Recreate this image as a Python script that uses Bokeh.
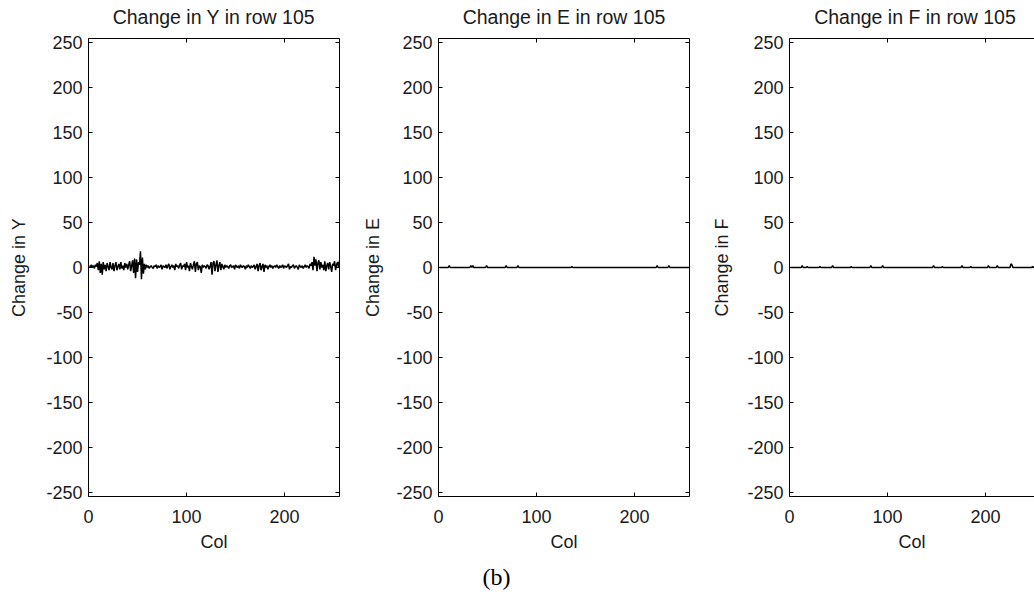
from bokeh.plotting import figure
from bokeh.models import LinearAxis, FixedTicker, Range1d, Label, PrintfTickFormatter
from bokeh.layouts import row, column
from bokeh.embed import file_html
from bokeh.resources import INLINE

cols = list(range(1, 257))

change_y = [
    2, 1, 3, 0, 2, -1, 3, 1, 5, -3, 7, -6, 4, -8, 6, -2,
    3, -4, 5, 1, -3, 6, 0, -2, 5, -4, 2, 6, -3, 1, 4, -2,
    6, -1, 2, -3, 5, 0, 4, -2, 3, 7, -4, 2, 8, -6, 10, -12,
    9, -5, 6, 3, 18, -13, 11, -7, 4, -2, 3, 0, 2, -1, 1, 2,
    0, -1, 2, 1, 3, -1, 2, 0, 1, 3, -2, 2, 1, 0, 3, -1,
    2, 4, -2, 1, 3, 0, 2, -3, 4, 1, 2, -1, 3, 5, -2, 2,
    1, 4, -3, 6, 0, 2, -4, 5, 1, -2, 3, 7, -5, 4, 6, -3,
    2, 1, -6, 3, 0, 2, 1, -1, 3, 2, -2, 1, 6, -8, 5, 7,
    -4, 3, 8, -5, 2, 6, -3, 4, 1, -2, 3, 0, 2, 1, -1, 2,
    3, 0, 1, 2, -2, 3, 1, 0, 2, -1, 3, 1, 0, 2, 1, -2,
    2, 0, 3, 1, -1, 2, 0, 1, 3, -2, 1, 4, -4, 2, 5, -3,
    1, 4, -5, 3, 0, 2, -2, 1, 3, 0, 2, -1, 1, 2, 0, 3,
    1, -1, 2, 0, 1, 3, -1, 2, 1, 0, 2, 4, -2, 1, 0, 2,
    3, -1, 1, 2, 0, -2, 3, 1, 0, 2, -1, 1, 3, 0, 2, 1,
    -1, 4, 2, 6, -3, 12, 2, 9, -4, 5, 8, -2, 6, 0, 3, -3,
    7, -4, 2, 5, -2, 6, 1, -5, 4, 2, 7, -3, 3, 6, 0, 8,
]

# E and F are zero except at a few columns
e_cols = [11, 33, 35, 49, 69, 81, 136, 223, 235]
e_vals = [2, 2, 2, 2, 2, 2, 1, 2, 2]
f_cols = [13, 18, 31, 44, 63, 83, 95, 147, 156, 176, 185, 203, 212, 226, 227, 248]
f_vals = [2, 1, 1, 2, 1, 2, 2, 2, 1, 2, 1, 2, 2, 4, 3, 1]


def sparse_series(nz_cols, nz_vals):
    d = dict(zip(nz_cols, nz_vals))
    return [d.get(c, 0) for c in cols]


change_e = sparse_series(e_cols, e_vals)
change_f = sparse_series(f_cols, f_vals)

titles = ["Change in Y in row 105", "Change in E in row 105", "Change in F in row 105"]
y_labels = ["Change in Y", "Change in E", "Change in F"]
x_ticks = [0, 100, 200]
y_ticks = [-250, -200, -150, -100, -50, 0, 50, 100, 150, 200, 250]
y_lim = (-255, 255)
x_max = 256

FONT = "Liberation Sans"
FS = "18px"
TXT = "#1a1a1a"
STRIP_H = 30


def style_axis(ax, labels=True):
    ax.axis_line_color = "black"
    ax.axis_line_width = 1
    ax.major_tick_in = 4
    ax.major_tick_out = 0
    ax.minor_tick_line_color = None
    ax.major_tick_line_color = "black"
    ax.formatter = PrintfTickFormatter(format="%d")
    ax.major_label_text_font = FONT
    ax.axis_label_text_font = FONT
    ax.axis_label_text_font_size = FS
    ax.axis_label_text_font_style = "normal"
    ax.axis_label_text_color = TXT
    if labels:
        ax.major_label_text_font_size = FS
        ax.major_label_text_color = TXT
    else:
        ax.major_label_text_font_size = "1px"
        ax.major_label_text_color = None
        ax.major_label_standoff = 0


def make_title(text, width, left, right, xend):
    t = figure(width=width, height=STRIP_H, x_range=Range1d(0, xend), y_range=Range1d(0, STRIP_H),
               title=None, output_backend="svg", toolbar_location=None,
               x_axis_location=None, y_axis_location=None,
               min_border_left=left, min_border_right=right, min_border_top=0, min_border_bottom=0)
    t.outline_line_color = None
    t.grid.visible = False
    t.add_layout(Label(x=x_max / 2, y=14, text=text, text_align="center", text_baseline="middle",
                       text_font=FONT, text_font_size="19.5px", text_color=TXT))
    return t


def make_fig(ylabel, series, width, left, right, xend, ylab_standoff, right_axis=True):
    p = figure(width=width, height=530, x_range=Range1d(0, xend), y_range=Range1d(*y_lim),
               title=None, output_backend="svg", toolbar_location=None,
               min_border_left=left, min_border_right=right, min_border_top=8, min_border_bottom=64,
               x_axis_label="Col", y_axis_label=ylabel)
    p.outline_line_color = None
    p.grid.visible = False
    p.background_fill_color = "white"
    p.border_fill_color = "white"

    p.xaxis.ticker = FixedTicker(ticks=x_ticks)
    p.yaxis.ticker = FixedTicker(ticks=y_ticks)
    for ax in p.xaxis:
        style_axis(ax)
        ax.major_label_standoff = 13
        ax.axis_label_standoff = 6
    for ax in p.yaxis:
        style_axis(ax)
        ax.major_label_standoff = 6
        ax.axis_label_standoff = ylab_standoff

    top = LinearAxis(ticker=FixedTicker(ticks=x_ticks))
    style_axis(top, labels=False)
    p.add_layout(top, "above")
    if right_axis:
        rt = LinearAxis(ticker=FixedTicker(ticks=y_ticks))
        style_axis(rt, labels=False)
        p.add_layout(rt, "right")

    p.line(cols, series, line_color="black", line_width=1.5)
    return p


# (width, left border, right border, visible x end, y-label standoff)
geo = [(358, 88, 19, x_max, 14), (349, 80, 18, x_max, 10), (327, 82, 0, 250, 12)]
series_list = [change_y, change_e, change_f]

title_row = row(*[make_title(titles[i], g[0], g[1], g[2], g[3]) for i, g in enumerate(geo)])
plot_row = row(*[make_fig(y_labels[i], series_list[i], g[0], g[1], g[2], g[3], g[4], right_axis=(i < 2))
                 for i, g in enumerate(geo)])

cap = figure(width=1034, height=36, x_range=Range1d(0, 1034), y_range=Range1d(0, 36),
             title=None, output_backend="svg", toolbar_location=None,
             x_axis_location=None, y_axis_location=None,
             min_border_left=0, min_border_right=0, min_border_top=0, min_border_bottom=0)
cap.outline_line_color = None
cap.grid.visible = False
cap.add_layout(Label(x=496, y=20, text="(b)", text_align="center", text_baseline="middle",
                     text_font="Liberation Serif", text_font_size="24px", text_color="black"))

layout = column(title_row, plot_row, cap)

open("out.html", "w").write(file_html(layout, INLINE))
